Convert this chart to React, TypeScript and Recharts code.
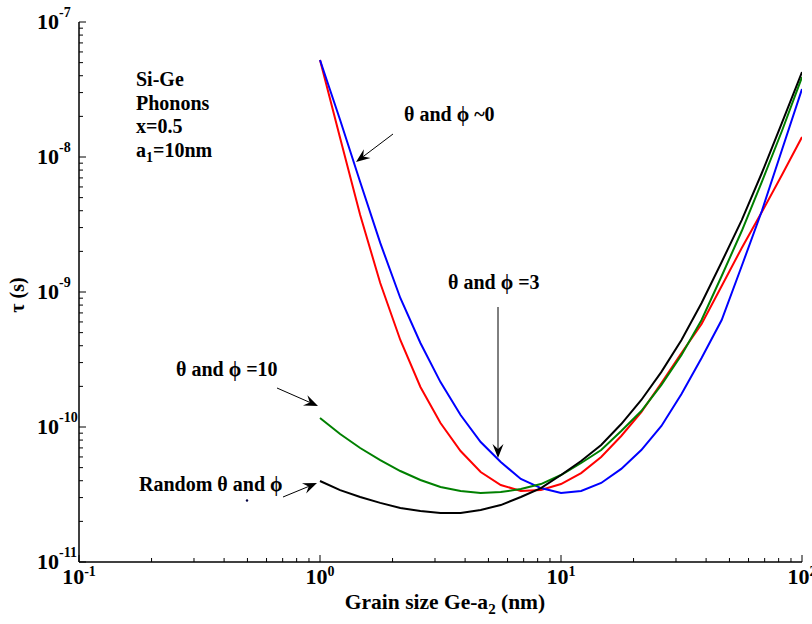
import React from "react";
import { LineChart, Line, XAxis, YAxis, Customized } from "recharts";

// grain size (nm), 12 points per decade
const grainSize = [1, 1.212, 1.468, 1.778, 2.154, 2.61, 3.162, 3.831, 4.642, 5.623, 6.813, 8.254, 10, 12.12, 14.68, 17.78, 21.54, 26.1, 31.62, 38.31, 46.42, 56.23, 68.13, 82.54, 100];

// tau (s) for each case
const tauRed = [5.23e-8, 1.383e-8, 3.72e-9, 1.166e-9, 4.41e-10, 1.978e-10, 1.071e-10, 6.64e-11, 4.64e-11, 3.72e-11, 3.36e-11, 3.41e-11, 3.78e-11, 4.56e-11, 6.0e-11, 8.58e-11, 1.291e-10, 2.12e-10, 3.53e-10, 5.79e-10, 1.108e-9, 2.12e-9, 3.91e-9, 7.36e-9, 1.406e-8];
const tauBlue = [5.23e-8, 1.88e-8, 6.53e-9, 2.31e-9, 9.03e-10, 4.19e-10, 2.15e-10, 1.227e-10, 7.74e-11, 5.5e-11, 4.12e-11, 3.53e-11, 3.24e-11, 3.36e-11, 3.85e-11, 4.89e-11, 6.75e-11, 1.017e-10, 1.755e-10, 3.24e-10, 6.2e-10, 1.558e-9, 3.98e-9, 1.127e-8, 3.19e-8];
const tauGreen = [1.166e-10, 8.87e-11, 6.99e-11, 5.69e-11, 4.72e-11, 4.05e-11, 3.59e-11, 3.36e-11, 3.24e-11, 3.3e-11, 3.47e-11, 3.78e-11, 4.41e-11, 5.41e-11, 6.75e-11, 9.34e-11, 1.314e-10, 2.05e-10, 3.41e-10, 6.2e-10, 1.314e-9, 2.83e-9, 6.53e-9, 1.558e-8, 3.91e-8];
const tauBlack = [3.98e-11, 3.41e-11, 3.03e-11, 2.74e-11, 2.51e-11, 2.39e-11, 2.31e-11, 2.31e-11, 2.43e-11, 2.64e-11, 3.03e-11, 3.53e-11, 4.41e-11, 5.6e-11, 7.36e-11, 1.052e-10, 1.585e-10, 2.56e-10, 4.41e-10, 8.29e-10, 1.668e-9, 3.41e-9, 7.61e-9, 1.786e-8, 4.26e-8];

const xTicks = [0.1, 0.2, 0.3, 0.4, 0.5, 0.6, 0.7, 0.8, 0.9, 1, 2, 3, 4, 5, 6, 7, 8, 9, 10, 20, 30, 40, 50, 60, 70, 80, 90, 100];
const yTicks = [
  1e-11, 2e-11, 3e-11, 4e-11, 5e-11, 6e-11, 7e-11, 8e-11, 9e-11,
  1e-10, 2e-10, 3e-10, 4e-10, 5e-10, 6e-10, 7e-10, 8e-10, 9e-10,
  1e-9, 2e-9, 3e-9, 4e-9, 5e-9, 6e-9, 7e-9, 8e-9, 9e-9,
  1e-8, 2e-8, 3e-8, 4e-8, 5e-8, 6e-8, 7e-8, 8e-8, 9e-8,
  1e-7,
];

const data = grainSize.map((x, i) => ({
  x,
  red: tauRed[i],
  blue: tauBlue[i],
  green: tauGreen[i],
  black: tauBlack[i],
}));

const FONT = "'Liberation Serif', 'Times New Roman', 'DejaVu Serif', serif";
const MAJOR = 7;
const MINOR = 4;

const isMajor = (v: number) => {
  const l = Math.log10(v);
  return Math.abs(l - Math.round(l)) < 1e-6;
};
const expOf = (v: number) => Math.round(Math.log10(v));

const BottomTick = (props: any) => {
  const { x, y, payload } = props;
  const v = payload.value;
  const major = isMajor(v);
  return (
    <g>
      <line x1={x} y1={y} x2={x} y2={y - (major ? MAJOR : MINOR)} stroke="#000" strokeWidth={1} />
      {major && (
        <text x={x} y={y + 22} textAnchor="middle" fontFamily={FONT} fontWeight="bold" fontSize={22} fill="#000">
          10
          <tspan dy={-8} fontSize={14}>{String(expOf(v))}</tspan>
        </text>
      )}
    </g>
  );
};

const TopTick = (props: any) => {
  const { x, y, payload } = props;
  const major = isMajor(payload.value);
  return <line x1={x} y1={y} x2={x} y2={y + (major ? MAJOR : MINOR)} stroke="#000" strokeWidth={1} />;
};

const LeftTick = (props: any) => {
  const { x, y, payload } = props;
  const v = payload.value;
  const major = isMajor(v);
  return (
    <g>
      <line x1={x} y1={y} x2={x + (major ? MAJOR : MINOR)} y2={y} stroke="#000" strokeWidth={1} />
      {major && (
        <text x={x - 42} y={y + 7} textAnchor="start" fontFamily={FONT} fontWeight="bold" fontSize={22} fill="#000">
          10
          <tspan dy={-12} fontSize={14}>{String(expOf(v))}</tspan>
        </text>
      )}
    </g>
  );
};

const RightTick = (props: any) => {
  const { x, y, payload } = props;
  const major = isMajor(payload.value);
  return <line x1={x} y1={y} x2={x - (major ? MAJOR : MINOR)} y2={y} stroke="#000" strokeWidth={1} />;
};

const Arrow = ({ x1, y1, x2, y2 }: { x1: number; y1: number; x2: number; y2: number }) => {
  const dx = x2 - x1;
  const dy = y2 - y1;
  const L = Math.hypot(dx, dy);
  const ux = dx / L;
  const uy = dy / L;
  const px = -uy;
  const py = ux;
  const len = 14;
  const half = 5.5;
  const notch = 9;
  const bx = x2 - ux * len;
  const by = y2 - uy * len;
  const nx = x2 - ux * notch;
  const ny = y2 - uy * notch;
  return (
    <g>
      <line x1={x1} y1={y1} x2={nx} y2={ny} stroke="#000" strokeWidth={1} />
      <polygon
        points={`${x2},${y2} ${bx + px * half},${by + py * half} ${nx},${ny} ${bx - px * half},${by - py * half}`}
        fill="#000"
      />
    </g>
  );
};

const textStyle = { fontFamily: FONT, fontWeight: "bold" as const, fontSize: 20, fill: "#000" };

const Annotations = () => (
  <g>
    <text x={136} y={86} {...textStyle}>Si-Ge</text>
    <text x={136} y={110} {...textStyle}>Phonons</text>
    <text x={136} y={133} {...textStyle}>x=0.5</text>
    <text x={136} y={157} {...textStyle}>
      a<tspan dy={5} fontSize={14}>1</tspan>
      <tspan dy={-5}>=10nm</tspan>
    </text>

    <text x={404} y={121} {...textStyle}>θ and ϕ ~0</text>
    <Arrow x1={393} y1={134} x2={356} y2={162} />

    <text x={448} y={289} {...textStyle}>θ and ϕ =3</text>
    <Arrow x1={498} y1={307} x2={498} y2={458} />

    <text x={176} y={376} {...textStyle}>θ and ϕ =10</text>
    <Arrow x1={277} y1={388} x2={318} y2={406} />

    <text x={139} y={491} {...textStyle}>Random θ and ϕ</text>
    <Arrow x1={283} y1={497} x2={317} y2={483} />
    <circle cx={247} cy={500.5} r={1.2} fill="#000040" />

    <text x={445} y={609} textAnchor="middle" {...textStyle} fontSize={21.5}>
      Grain size Ge-a<tspan dy={5} fontSize={15}>2</tspan>
      <tspan dy={-5}> (nm)</tspan>
    </text>

    <text x={24} y={295} textAnchor="middle" transform="rotate(-90 24 295)" {...textStyle}>τ (s)</text>
  </g>
);

export default function App() {
  return (
    <div style={{ position: "absolute", left: 0, top: 0, width: 812, height: 624, background: "#fff" }}>
      <LineChart width={812} height={624} data={data} margin={{ top: 22, right: 10, bottom: 0, left: 0 }}>
        <XAxis
          xAxisId="b"
          dataKey="x"
          type="number"
          scale="log"
          domain={[0.1, 100]}
          ticks={xTicks}
          interval={0}
          allowDataOverflow
          height={62}
          tickSize={0}
          tickMargin={0}
          tickLine={false}
          tick={<BottomTick />}
          axisLine={{ stroke: "#000", strokeWidth: 1.5 }}
        />
        <XAxis
          xAxisId="t"
          orientation="top"
          dataKey="x"
          type="number"
          scale="log"
          domain={[0.1, 100]}
          ticks={xTicks}
          interval={0}
          allowDataOverflow
          height={0}
          tickSize={0}
          tickMargin={0}
          tickLine={false}
          tick={<TopTick />}
          axisLine={{ stroke: "#000", strokeWidth: 1.5 }}
        />
        <YAxis
          yAxisId="l"
          type="number"
          scale="log"
          domain={[1e-11, 1e-7]}
          ticks={yTicks}
          interval={0}
          allowDataOverflow
          width={79}
          tickSize={0}
          tickMargin={0}
          tickLine={false}
          tick={<LeftTick />}
          axisLine={{ stroke: "#000", strokeWidth: 1.5 }}
        />
        <YAxis
          yAxisId="r"
          orientation="right"
          type="number"
          scale="log"
          domain={[1e-11, 1e-7]}
          ticks={yTicks}
          interval={0}
          allowDataOverflow
          width={0}
          tickSize={0}
          tickMargin={0}
          tickLine={false}
          tick={<RightTick />}
          axisLine={{ stroke: "#000", strokeWidth: 1.5 }}
        />
        <Line xAxisId="b" yAxisId="l" dataKey="red" stroke="#ff0000" strokeWidth={2} dot={false} type="linear" isAnimationActive={false} />
        <Line xAxisId="b" yAxisId="l" dataKey="blue" stroke="#0000ff" strokeWidth={2} dot={false} type="linear" isAnimationActive={false} />
        <Line xAxisId="b" yAxisId="l" dataKey="green" stroke="#008000" strokeWidth={2} dot={false} type="linear" isAnimationActive={false} />
        <Line xAxisId="b" yAxisId="l" dataKey="black" stroke="#000000" strokeWidth={2} dot={false} type="linear" isAnimationActive={false} />
        <Customized component={<Annotations />} />
      </LineChart>
    </div>
  );
}
